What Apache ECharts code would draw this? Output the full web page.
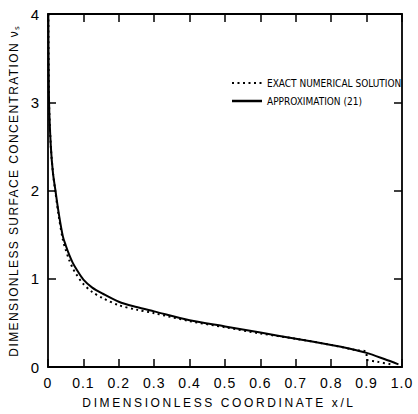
<!DOCTYPE html>
<html>
<head>
<meta charset="utf-8">
<script src="https://cdn.jsdelivr.net/npm/echarts@6/dist/echarts.min.js"></script>
<style>
  html, body { margin: 0; padding: 0; background: #fff; }
  #chart { width: 418px; height: 414px; }
</style>
</head>
<body>
<div id="chart"></div>
<script>
// values
var xTicks = [0, 0.1, 0.2, 0.3, 0.4, 0.5, 0.6, 0.7, 0.8, 0.9, 1.0];
var yTicks = [0, 1, 2, 3, 4];

var approxX = [0.001, 0.003, 0.008, 0.014, 0.021, 0.03, 0.042, 0.05, 0.06, 0.07, 0.08, 0.1, 0.125, 0.155, 0.2, 0.25, 0.3, 0.4, 0.5, 0.6, 0.7, 0.8, 0.85, 0.9, 0.95, 0.99];
var approxY = [4.0, 3.0, 2.5, 2.2, 2.0, 1.75, 1.48, 1.38, 1.27, 1.18, 1.11, 0.99, 0.9, 0.83, 0.74, 0.68, 0.63, 0.53, 0.46, 0.39, 0.32, 0.25, 0.21, 0.16, 0.09, 0.03];

var exactX = [0.001, 0.003, 0.008, 0.014, 0.021, 0.03, 0.042, 0.05, 0.06, 0.07, 0.08, 0.1, 0.125, 0.155, 0.2, 0.25, 0.3, 0.4, 0.5, 0.6, 0.7, 0.8, 0.87, 0.9, 0.9, 0.93, 0.97];
var exactY = [4.0, 3.0, 2.5, 2.2, 1.98, 1.72, 1.44, 1.33, 1.21, 1.12, 1.05, 0.94, 0.85, 0.78, 0.7, 0.65, 0.61, 0.52, 0.45, 0.38, 0.32, 0.25, 0.19, 0.17, 0.09, 0.06, 0.03];

var xName = 'DIMENSIONLESS COORDINATE x/L';
var yName = 'DIMENSIONLESS SURFACE CONCENTRATION \u03bd\u209b';
var legendNames = ['EXACT NUMERICAL SOLUTION', 'APPROXIMATION (21)'];

function pairs(xs, ys) {
    return xs.map(function (x, i) { return [x, ys[i]]; });
}

var FONT = 'Liberation Sans';

function chart01(id) {
    var myChart = echarts.init(document.getElementById(id), null, { renderer: 'svg' });
    var tickStyle = { show: true, inside: true, length: 8, lineStyle: { color: '#000', width: 1.5 } };
    var lineStyle = { show: true, onZero: false, lineStyle: { color: '#000', width: 1.8 } };
    var option = {
        backgroundColor: '#fff',
        animation: false,
        grid: { left: 45, right: 16, top: 14, bottom: 41 },
        legend: {
            left: 225,
            top: 73,
            orient: 'vertical',
            itemWidth: 32,
            itemHeight: 10,
            itemGap: 8,
            icon: 'none',
            textStyle: { fontFamily: "'DejaVu Sans Condensed', 'Liberation Sans'", fontSize: 10, color: '#000' },
            data: [
                { name: legendNames[0], itemStyle: { opacity: 0 } },
                { name: legendNames[1], itemStyle: { opacity: 0 } }
            ]
        },
        xAxis: [
            {
                type: 'value', min: 0, max: 1, interval: 0.1,
                name: xName,
                nameLocation: 'middle', nameGap: 30,
                nameTextStyle: { fontFamily: FONT, fontSize: 12, color: '#000', padding: [0, 12, 0, 0] },
                axisLine: lineStyle, axisTick: tickStyle, splitLine: { show: false },
                axisLabel: {
                    fontFamily: FONT, fontSize: 14, color: '#000', margin: 9,
                    formatter: function (v) { return v === 0 ? '0' : v.toFixed(1); }
                }
            },
            {
                type: 'value', min: 0, max: 1, interval: 0.1, position: 'top',
                axisLine: lineStyle, axisTick: tickStyle, splitLine: { show: false },
                axisLabel: { show: false }
            }
        ],
        yAxis: [
            {
                type: 'value', min: 0, max: 4, interval: 1,
                name: yName,
                nameLocation: 'middle', nameGap: 28,
                nameTextStyle: { fontFamily: FONT, fontSize: 12, color: '#000' },
                axisLine: lineStyle, axisTick: tickStyle, splitLine: { show: false },
                axisLabel: { fontFamily: FONT, fontSize: 15, color: '#000', margin: 8 }
            },
            {
                type: 'value', min: 0, max: 4, interval: 1, position: 'right',
                axisLine: lineStyle, axisTick: tickStyle, splitLine: { show: false },
                axisLabel: { show: false }
            }
        ],
        series: [
            {
                name: legendNames[0],
                type: 'line',
                showSymbol: false,
                smooth: 0.3,
                lineStyle: { color: '#000', width: 2, type: [2, 3.5] },
                itemStyle: { color: '#000' },
                data: pairs(exactX, exactY)
            },
            {
                name: legendNames[1],
                type: 'line',
                showSymbol: false,
                smooth: 0.3,
                lineStyle: { color: '#000', width: 2 },
                itemStyle: { color: '#000' },
                data: pairs(approxX, approxY)
            }
        ],
        graphic: [
            { type: 'line', shape: { x1: 232, y1: 83, x2: 262, y2: 83 }, style: { stroke: '#000', lineWidth: 2, lineDash: [2, 3.5] } },
            { type: 'line', shape: { x1: 232, y1: 101, x2: 262, y2: 101 }, style: { stroke: '#000', lineWidth: 2.5 } }
        ]
    };
    myChart.setOption(option);

    // spaced-out lettering like the typeset original
    var spacing = {};
    spacing[xName] = 2.6;
    spacing[yName] = 1.4;
    var texts = document.getElementById(id).querySelectorAll('text');
    texts.forEach(function (t) {
        var s = spacing[t.textContent];
        if (s) {
            t.setAttribute('letter-spacing', s);
        } else if (/^[0-9.]+$/.test(t.textContent)) {
            t.setAttribute('letter-spacing', 1);
        }
    });
    return myChart;
}

var chartInit01 = chart01('chart');
</script>
</body>
</html>
